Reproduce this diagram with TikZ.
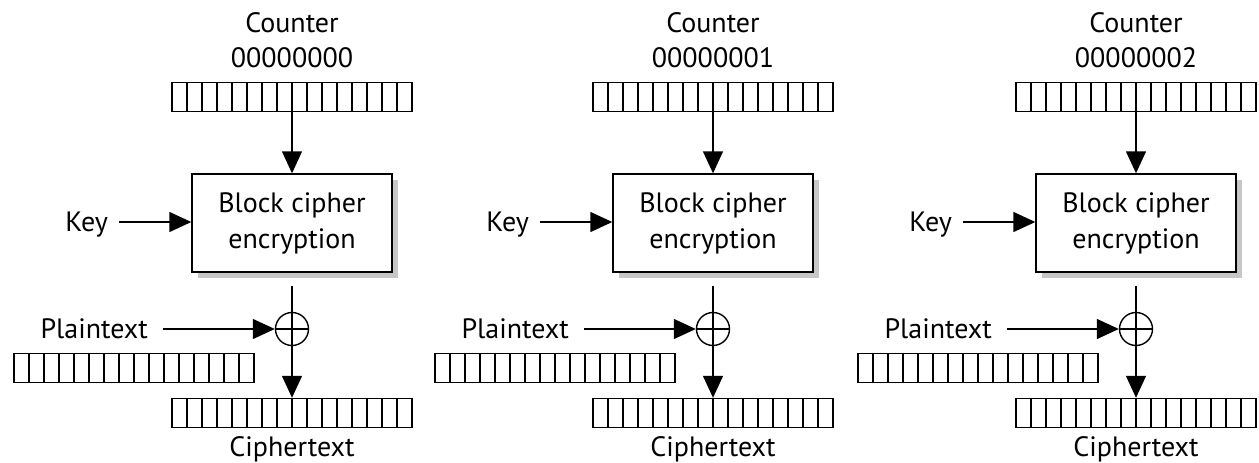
\documentclass[tikz,border=0pt]{standalone}
\usepackage{fontspec}
\setmainfont{PT Sans}
\usetikzlibrary{arrows.meta,shadows}

\tikzset{
  lbl/.style={font=\fontsize{28}{35}\selectfont, inner sep=0pt, text depth=0pt},
  reg/.style={draw, line width=1.4pt, minimum width=240pt, minimum height=29pt, inner sep=0pt,
    path picture={\foreach \k in {1,...,15}
      \draw[line width=1.4pt] ([xshift=\k*15pt]path picture bounding box.north west) -- ([xshift=\k*15pt]path picture bounding box.south west);}},
  cbox/.style={draw, fill=white, line width=1.4pt, minimum width=200pt, minimum height=98pt, align=center,
    font=\fontsize{28}{36}\selectfont,
    drop shadow={shadow xshift=6pt, shadow yshift=-6pt, fill=black!22, opacity=1}},
  xor/.style={draw, circle, line width=1.4pt, minimum size=33pt, inner sep=0pt,
    path picture={\draw[line width=1.4pt] (path picture bounding box.north) -- (path picture bounding box.south)
      (path picture bounding box.west) -- (path picture bounding box.east);}},
  arr/.style={line width=1.4pt, -{Triangle[length=22pt,width=20pt]}}
}

\begin{document}
\begin{tikzpicture}[x=1pt,y=1pt,yscale=-1,xscale=1]
\useasboundingbox (0,0) rectangle (1259,463);

\foreach \i/\dx in {0/0,1/421,2/844}{
\begin{scope}[xshift=\dx]
% Text Node
\node[lbl] (cname\i) at (292,23) {Counter};
% Text Node
\node[lbl] (cval\i) at (292,58) {0000000\i};
%Shape: Register
\node[reg] (ctr\i) at (292,97) {};
%Shape: Rectangle
\node[cbox] (box\i) at (292,223) {Block cipher\\encryption};
% Text Node
\node[lbl, anchor=east] (key\i) at (108,222) {Key};
%Shape: Circle
\node[xor] (xor\i) at (292,329) {};
% Text Node
\node[lbl, anchor=east] (ptxt\i) at (148,329) {Plaintext};
%Shape: Register
\node[reg] (preg\i) at (134,368) {};
%Shape: Register
\node[reg] (creg\i) at (292,413) {};
% Text Node
\node[lbl] (ctxt\i) at (292,447) {Ciphertext};

%Straight Lines
\draw[arr] (ctr\i) -- (box\i);
\draw[arr, shorten <=11pt] (key\i) -- (key\i -| box\i.west);
\draw[line width=1.4pt, shorten <=13pt] (box\i) -- (xor\i);
\draw[arr, shorten <=15pt] (ptxt\i) -- (xor\i);
\draw[arr] (xor\i) -- (creg\i);
\end{scope}
}

\end{tikzpicture}
\end{document}
